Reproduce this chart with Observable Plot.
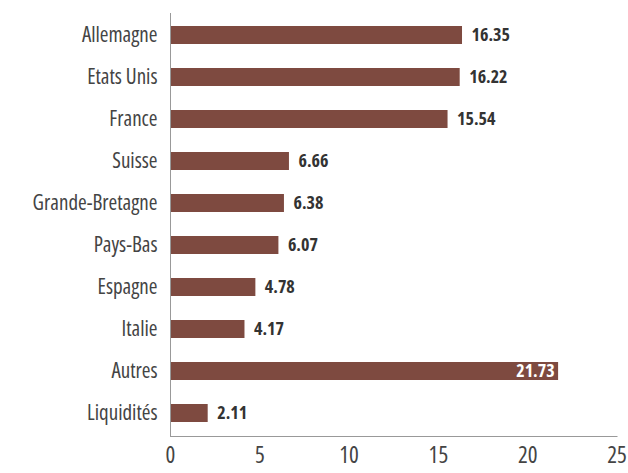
<!DOCTYPE html>
<html>
<head>
<meta charset="utf-8">
<script src="https://cdn.jsdelivr.net/npm/d3@7"></script>
<script src="https://cdn.jsdelivr.net/npm/@observablehq/plot@0.6"></script>
<style>
  html, body { margin: 0; padding: 0; background: #fff; }
  #chart svg { display: block; }
  #chart svg, #chart svg text { font-family: 'Open Sans', sans-serif !important; font-stretch: condensed; }
</style>
</head>
<body>
<div id="chart"></div>
<script>
const categories = ["Allemagne", "Etats Unis", "France", "Suisse", "Grande-Bretagne", "Pays-Bas", "Espagne", "Italie", "Autres", "Liquidités"];
const values = [16.35, 16.22, 15.54, 6.66, 6.38, 6.07, 4.78, 4.17, 21.73, 2.11];
const xTicks = [0, 5, 10, 15, 20, 25];
const insideLabels = ["Autres"];

const data = categories.map((c, i) => ({category: c, value: values[i]}));
const barColor = "#7e4a40";

const chart = Plot.plot({
  width: 628,
  height: 473,
  marginLeft: 170,
  marginRight: 11.5,
  marginTop: 13,
  marginBottom: 37,
  style: {background: "#fff"},
  x: {domain: [0, 25], ticks: xTicks, label: null},
  y: {domain: categories, label: null, paddingInner: 0.56, paddingOuter: 0.28},
  marks: [
    Plot.barX(data, {x: "value", y: "category", fill: barColor}),
    Plot.frame({anchor: "left", stroke: "#999"}),
    Plot.frame({anchor: "bottom", stroke: "#999"}),
    Plot.axisX({ticks: xTicks, tickSize: 0, tickPadding: 10, fontSize: 23, fill: "#444", label: null}),
    Plot.axisY({tickSize: 0, tickPadding: 13, fontSize: 21, fill: "#444", label: null}),
    Plot.text(data.filter(d => !insideLabels.includes(d.category)), {
      x: "value", y: "category", text: d => d.value.toFixed(2),
      textAnchor: "start", dx: 9, fontSize: 18, fontWeight: "bold", fill: "#333"
    }),
    Plot.text(data.filter(d => insideLabels.includes(d.category)), {
      x: "value", y: "category", text: d => d.value.toFixed(2),
      textAnchor: "end", dx: -4, fontSize: 18, fontWeight: "bold", fill: "#fff"
    })
  ]
});
document.getElementById("chart").appendChild(chart);
</script>
</body>
</html>
